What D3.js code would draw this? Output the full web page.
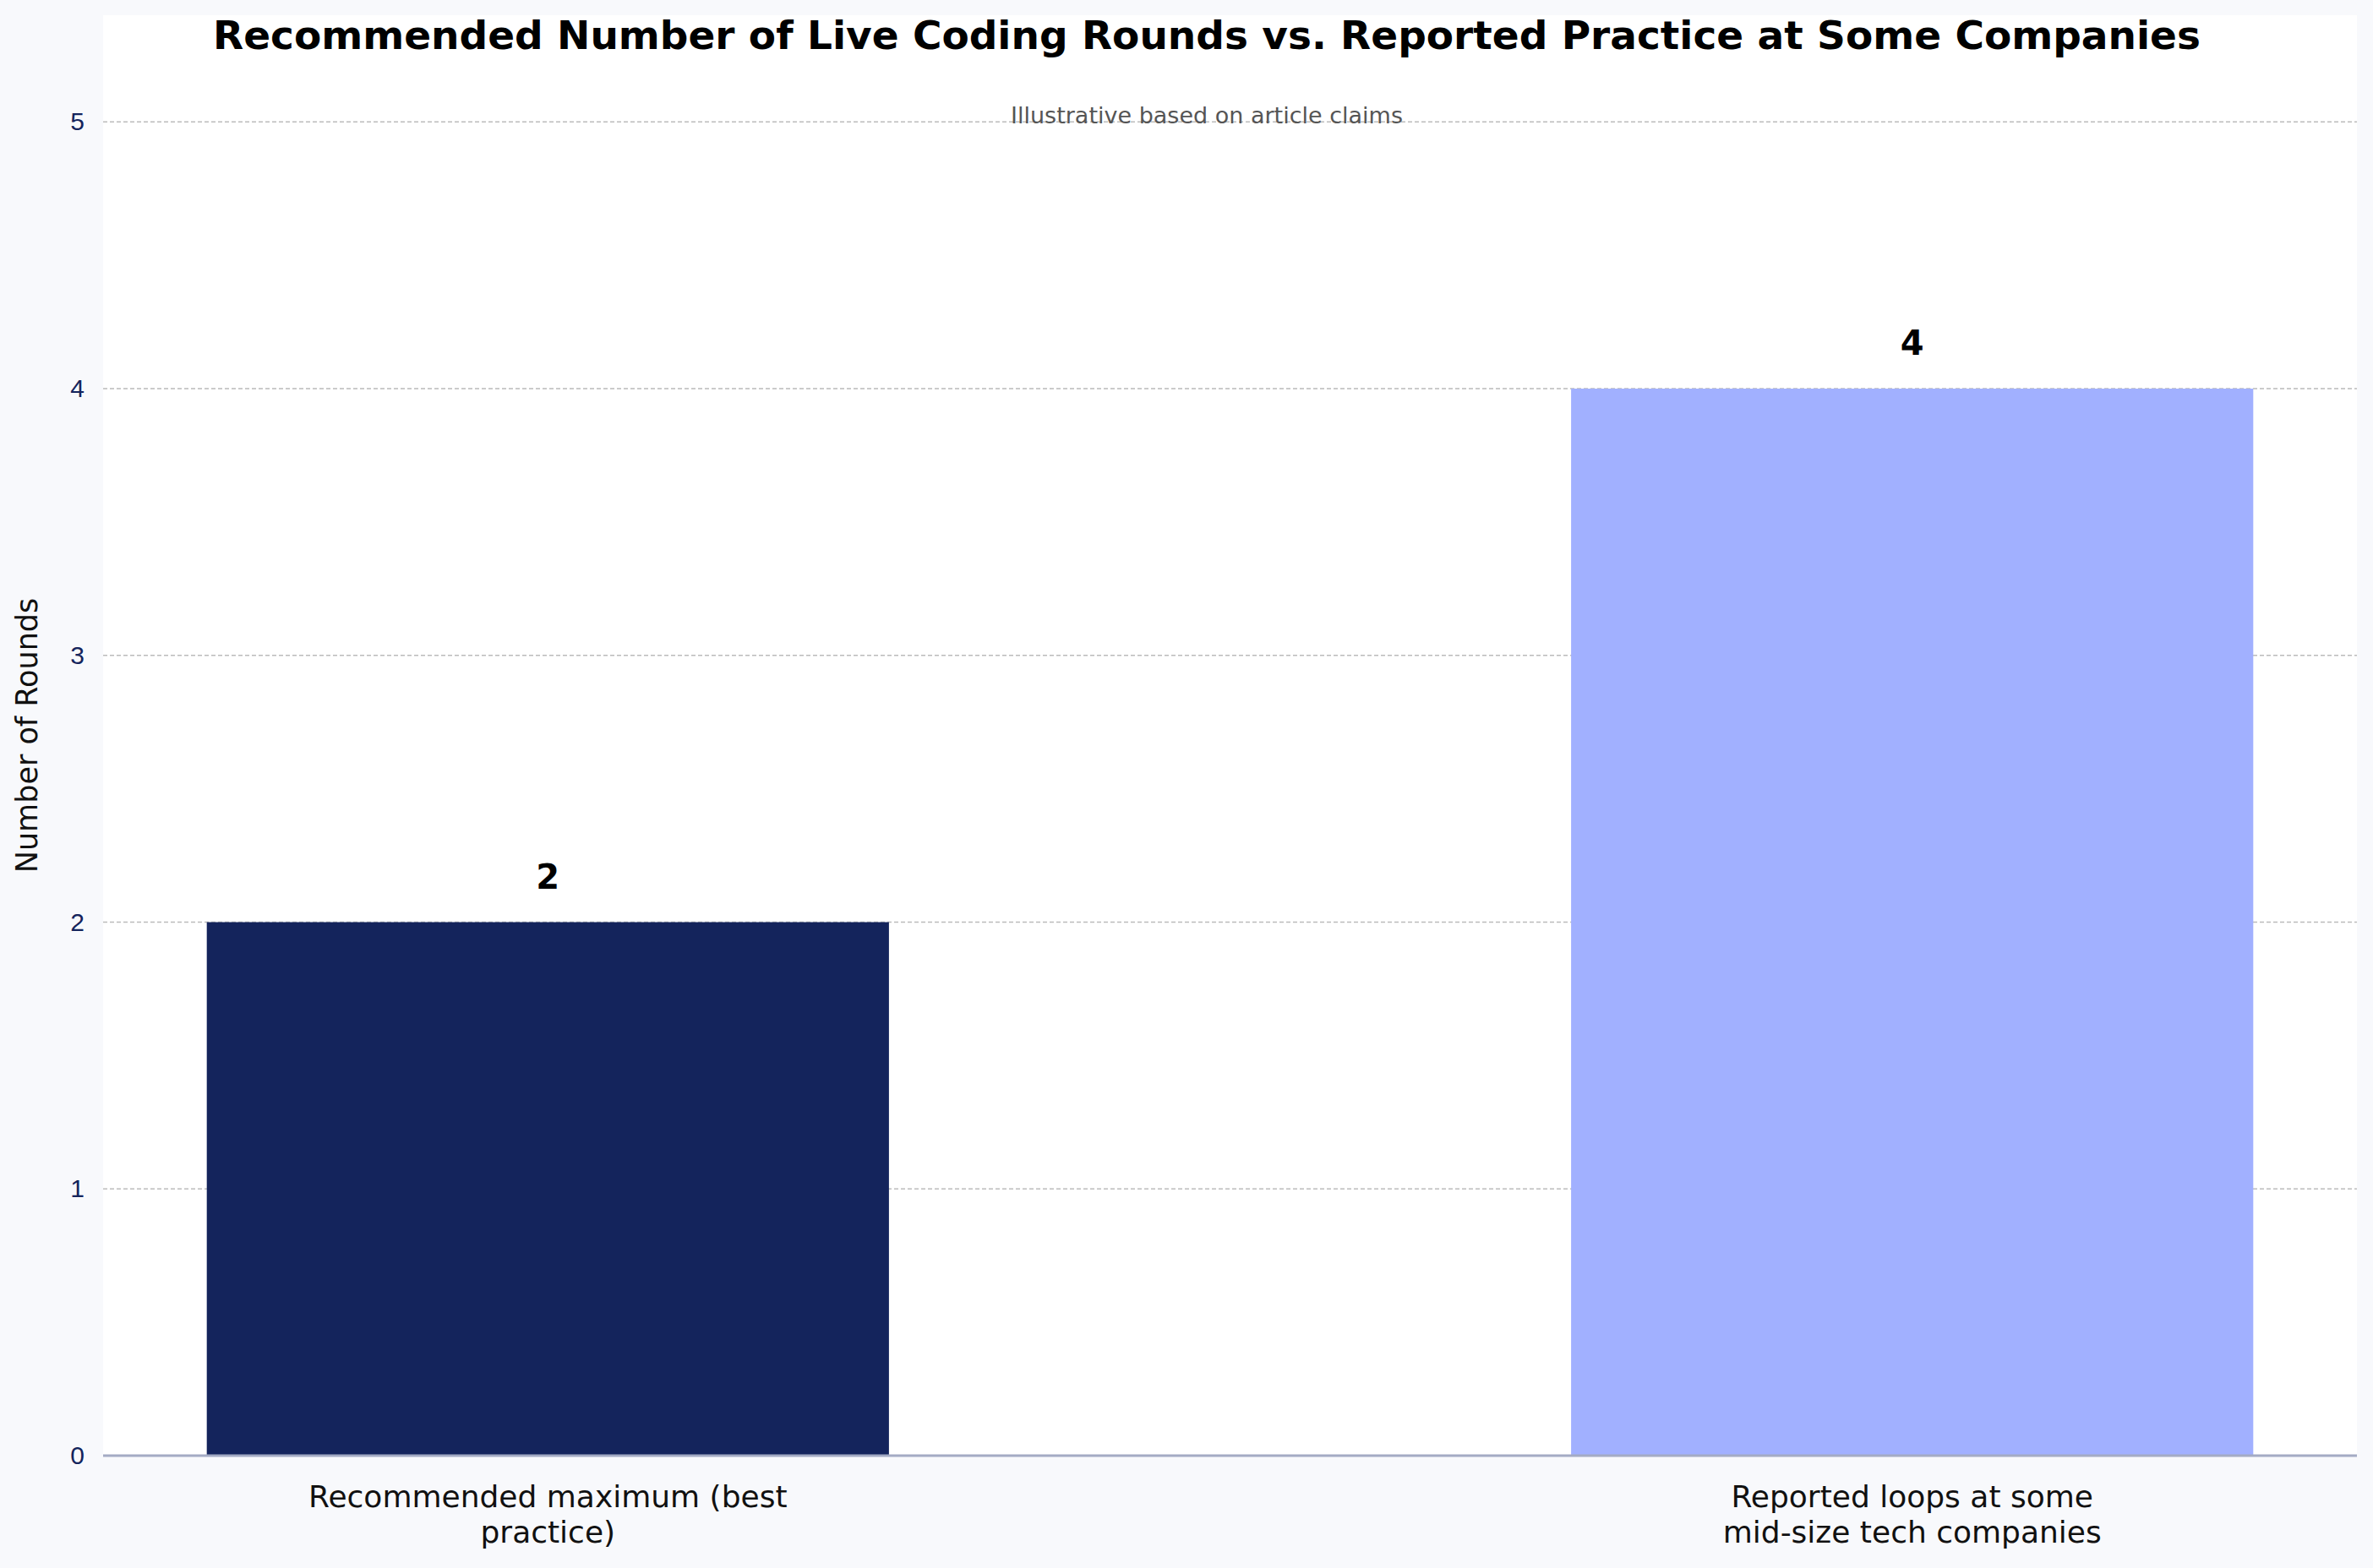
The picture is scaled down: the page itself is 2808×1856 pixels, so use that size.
<!DOCTYPE html>
<html><head><meta charset="utf-8">
<script src="https://cdn.jsdelivr.net/npm/d3@7"></script>
<style>body{margin:0;background:#f8f9fc;}svg{display:block;font-family:"DejaVu Sans",sans-serif;}</style>
</head><body>
<svg id="chart" width="2808" height="1856"></svg>
<script>
var categories = ["Recommended maximum (best\npractice)", "Reported loops at some\nmid-size tech companies"];
var rounds = [2, 4];
var colors = ["#14245c", "#a1b0ff"];
var yTicks = [0, 1, 2, 3, 4, 5];

var svg = d3.select("#chart");
var margin = {left: 122, right: 19, top: 18, bottom: 133};
var W = 2808, H = 1856;

svg.append("rect").attr("x", margin.left).attr("y", margin.top)
	.attr("width", W - margin.left - margin.right).attr("height", H - margin.top - margin.bottom)
	.attr("fill", "#fff");

var x = d3.scaleBand().domain(categories).range([margin.left, W - margin.right]).paddingInner(0.5).paddingOuter(0.076);
var y = d3.scaleLinear().domain([0, 5.4]).range([H - margin.bottom, margin.top]);

var grid = svg.append("g");
grid.selectAll("line").data(yTicks.slice(1)).enter().append("line")
	.attr("x1", margin.left).attr("x2", W - margin.right)
	.attr("y1", function(d) { return y(d); }).attr("y2", function(d) { return y(d); })
	.attr("stroke", "#bbb").attr("stroke-width", 1.6).attr("stroke-dasharray", "5,3");

var yAxis = svg.append("g").attr("transform", "translate(" + margin.left + ",0)")
	.call(d3.axisLeft(y).tickValues(yTicks).tickFormat(d3.format("d")).tickSize(0).tickPadding(22));
yAxis.select(".domain").remove();
yAxis.selectAll("text").attr("font-size", 30).attr("fill", "#14245c");

svg.selectAll("rect.bar").data(rounds).enter().append("rect").attr("class", "bar")
	.attr("x", function(d, i) { return x(categories[i]); })
	.attr("width", x.bandwidth())
	.attr("y", function(d) { return y(d); })
	.attr("height", function(d) { return y(0) - y(d); })
	.attr("fill", function(d, i) { return colors[i]; });

svg.append("line").attr("x1", margin.left).attr("x2", W - margin.right)
	.attr("y1", y(0)).attr("y2", y(0)).attr("stroke", "#a4abc4").attr("stroke-width", 3);

svg.selectAll("text.val").data(rounds).enter().append("text").attr("class", "val")
	.attr("x", function(d, i) { return x(categories[i]) + x.bandwidth() / 2; })
	.attr("y", function(d) { return y(d) - 40; })
	.attr("text-anchor", "middle").attr("font-size", 40).attr("font-weight", "bold")
	.text(function(d) { return d; });

categories.forEach(function(c, i) {
	var t = svg.append("text").attr("text-anchor", "middle").attr("font-size", 36).attr("fill", "#111")
		.attr("x", x(c) + x.bandwidth() / 2).attr("y", 1784);
	c.split("\n").forEach(function(line, j) {
		t.append("tspan").attr("x", x(c) + x.bandwidth() / 2).attr("dy", j ? 42 : 0).text(line);
	});
});

svg.append("text").attr("transform", "translate(44," + y(2.7) + ") rotate(-90)")
	.attr("text-anchor", "middle").attr("font-size", 35).attr("fill", "#111").text("Number of Rounds");

svg.append("text").attr("x", 1428).attr("y", 58).attr("text-anchor", "middle")
	.attr("font-size", 47).attr("font-weight", "bold")
	.text("Recommended Number of Live Coding Rounds vs. Reported Practice at Some Companies");
svg.append("text").attr("x", 1428).attr("y", 146).attr("text-anchor", "middle")
	.attr("font-size", 27).attr("fill", "#555").text("Illustrative based on article claims");
</script>
</body></html>
